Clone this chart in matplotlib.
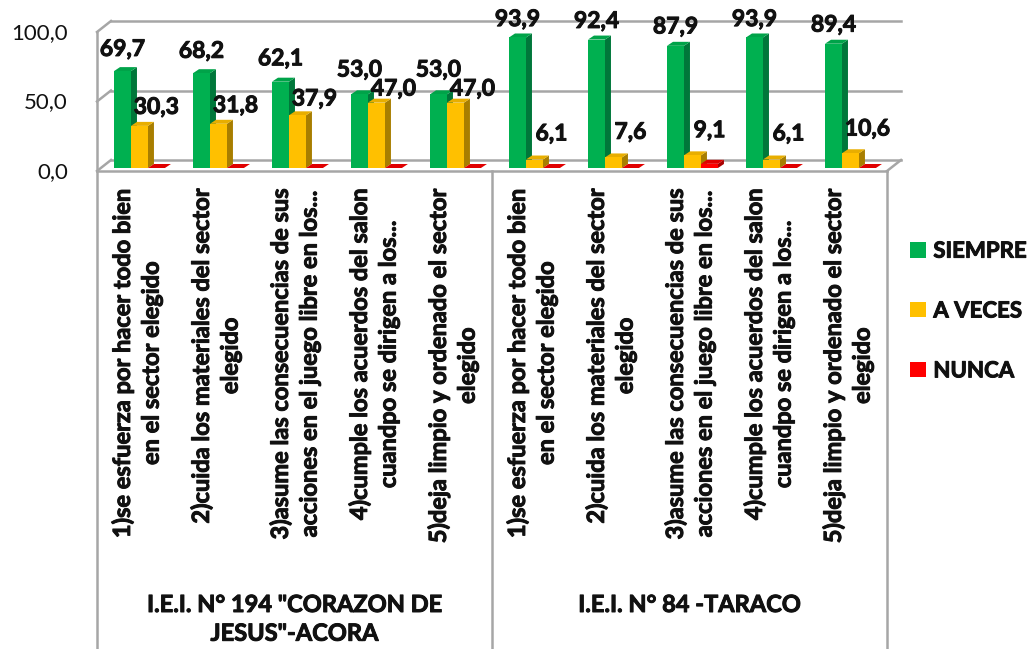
import matplotlib
matplotlib.use('Agg')
import matplotlib.pyplot as plt
import matplotlib.patheffects as pe
from matplotlib.patches import Polygon, Rectangle, Patch

# ---------------- data ----------------
categories = [
    "1)se esfuerza por hacer todo bien\nen el sector elegido",
    "2)cuida los materiales del sector\nelegido",
    "3)asume las consecuencias de sus\nacciones en el juego libre en los...",
    "4)cumple los acuerdos del salon\ncuandpo se dirigen a los...",
    "5)deja limpio y ordenado el sector\nelegido",
    "1)se esfuerza por hacer todo bien\nen el sector elegido",
    "2)cuida los materiales del sector\nelegido",
    "3)asume las consecuencias de sus\nacciones en el juego libre en los...",
    "4)cumple los acuerdos del salon\ncuandpo se dirigen a los...",
    "5)deja limpio y ordenado el sector\nelegido",
]
groups = ['I.E.I. N° 194 "CORAZON DE\nJESUS"-ACORA', 'I.E.I. N° 84 -TARACO']
group_sizes = [5, 5]
siempre = [69.7, 68.2, 62.1, 53.0, 53.0, 93.9, 92.4, 87.9, 93.9, 89.4]
a_veces = [30.3, 31.8, 37.9, 47.0, 47.0, 6.1, 7.6, 9.1, 6.1, 10.6]
nunca = [0.0, 0.0, 0.0, 0.0, 0.0, 0.0, 0.0, 3.0, 0.0, 0.0]
series_names = ["SIEMPRE", "A VECES", "NUNCA"]
yticks = [0, 50, 100]
ytick_labels = ["0,0", "50,0", "100,0"]

# ---------------- style ----------------
front_cols = ["#00B050", "#FFC000", "#FF0000"]
side_cols = ["#00773A", "#A87E00", "#A80000"]
top_cols = ["#00A349", "#E8AE00", "#E00000"]
label_series = [True, True, False]
label_shift = [0.0, 1.0, 0.0]      # in bar widths
# Excel's 3-D label projection: label height = base offset + compressed value scale
label_base_px = [34.5, 29.3, 0.0]
label_scale = [0.888, 0.79, 1.0]
wall_col = "#A6A6A6"
TXT = "#111111"
heavy = [pe.withStroke(linewidth=0.7, foreground=TXT)]

plt.rcParams['font.family'] = ['Lato', 'DejaVu Sans']

W, H = 1035, 649
fig = plt.figure(figsize=(W / 100, H / 100), dpi=100)
fig.patch.set_facecolor('white')


def fx(px):
    return px / W


def fy(py):
    return 1 - py / H


AX_L, AX_R, AX_BASE, AX_TOP = 97, 887, 168, 29
ncat = len(categories)
ax = fig.add_axes([fx(AX_L), fy(AX_BASE), (AX_R - AX_L) / W, (AX_BASE - AX_TOP) / H])
ax.set_xlim(0, ncat)
ax.set_ylim(0, 100)
ax.axis('off')

px_x = (AX_R - AX_L) / ncat
px_y = (AX_BASE - AX_TOP) / 100.0


def F(x, v):
    return (x, v - 3 / px_y)


def B(x, v):
    return (x + 14 / px_x, v + 8 / px_y)


lw = 1.8
for v in yticks:
    (x0, y0), (x1, y1) = B(0, v), B(ncat, v)
    ax.plot([x0, x1], [y0, y1], color=wall_col, lw=lw, clip_on=False, zorder=1)
    (a0, b0), (a1, b1) = F(0, v), B(0, v)
    ax.plot([a0, a1], [b0, b1], color=wall_col, lw=lw, clip_on=False, zorder=1)
(a0, b0), (a1, b1) = F(0, 0), F(ncat, 0)
ax.plot([a0, a1], [b0, b1], color=wall_col, lw=lw, clip_on=False, zorder=1)
(a0, b0), (a1, b1) = F(ncat, 0), B(ncat, 0)
ax.plot([a0, a1], [b0, b1], color=wall_col, lw=lw, clip_on=False, zorder=1)
ax.plot([0, 0], [F(0, 100)[1], -500], color=wall_col, lw=lw, clip_on=False, zorder=1)
pos = 0
for gs in group_sizes:
    pos += gs
    ax.plot([pos, pos], [F(pos, 0)[1], -500], color=wall_col, lw=lw, clip_on=False, zorder=1)

# ---------------- bars ----------------
BAR_W = 0.215
START = 0.215
dx = 6 / px_x
dy = 4 / px_y
for j, vals in enumerate([siempre, a_veces, nunca]):
    for i, v in enumerate(vals):
        x0 = i + START + j * BAR_W
        x1 = x0 + BAR_W
        z = 3 + j * 0.1
        ax.add_patch(Polygon([(x1, 0), (x1 + dx, dy), (x1 + dx, v + dy), (x1, v)],
                             closed=True, fc=side_cols[j], ec='none', zorder=z, clip_on=False))
        ax.add_patch(Polygon([(x0, v), (x1, v), (x1 + dx, v + dy), (x0 + dx, v + dy)],
                             closed=True, fc=top_cols[j], ec='none', zorder=z, clip_on=False))
        ax.add_patch(Rectangle((x0, 0), BAR_W, v, fc=front_cols[j], ec='none',
                               zorder=z + 0.01, clip_on=False))
        if label_series[j]:
            lx = x0 + BAR_W / 2 + label_shift[j] * BAR_W
            ly = v * label_scale[j] + (label_base_px[j] - 2) / px_y
            ax.text(lx, ly, f"{v:.1f}".replace('.', ','),
                    ha='center', va='center', fontsize=16.5, fontweight='bold',
                    color=TXT, zorder=10, clip_on=False, path_effects=heavy)

# ---------------- y tick labels ----------------
for v, lab in zip(yticks, ytick_labels):
    ax.text((68 - AX_L) / px_x, v - 4 / px_y, lab, ha='right', va='center',
            fontsize=16, color=TXT, clip_on=False)

# ---------------- category labels ----------------
for i, lab in enumerate(categories):
    ax.text(i + 0.5, (AX_BASE - 188) / px_y, lab, rotation=90, ha='center', va='top',
            multialignment='center', fontsize=17, fontweight='bold',
            linespacing=1.3, color=TXT, clip_on=False, path_effects=heavy)

pos = 0
for g, gs in zip(groups, group_sizes):
    ax.text(pos + gs / 2, (AX_BASE - 593) / px_y, g, ha='center', va='top',
            multialignment='center', fontsize=17, fontweight='bold',
            linespacing=1.3, color=TXT, clip_on=False, path_effects=heavy)
    pos += gs

# ---------------- legend ----------------
handles = [Patch(fc=c, ec='none') for c in front_cols]
leg = fig.legend(handles, series_names, loc='center left', bbox_to_anchor=(fx(910), fy(311)),
                 frameon=False, prop=dict(weight='bold', size=16), handlelength=0.7,
                 handleheight=0.7, handletextpad=0.35, labelspacing=1.75,
                 borderaxespad=0, borderpad=0)
for t in leg.get_texts():
    t.set_color(TXT)
    t.set_path_effects(heavy)

fig.savefig('out.png', dpi=100)
